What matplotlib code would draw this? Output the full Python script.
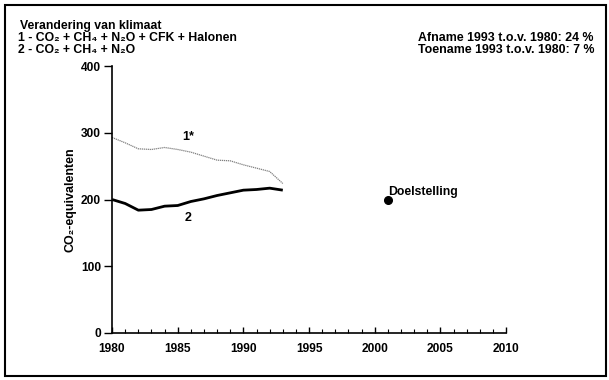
import matplotlib.pyplot as plt
from matplotlib.patches import Rectangle
from matplotlib.ticker import MultipleLocator

plt.rcParams.update({
    'font.family': ['Liberation Sans', 'DejaVu Sans'],
    'font.weight': 'bold',
})

# data
years = [1980, 1981, 1982, 1983, 1984, 1985, 1986, 1987, 1988, 1989, 1990, 1991, 1992, 1993]
series_1 = [293, 285, 276, 275, 278, 275, 271, 265, 259, 258, 252, 247, 242, 224]
series_2 = [200, 194, 184, 185, 190, 191, 197, 201, 206, 210, 214, 215, 217, 214]
target_year = [2001]
target_value = [200]
x_ticks = [1980, 1985, 1990, 1995, 2000, 2005, 2010]
y_ticks = [0, 100, 200, 300, 400]

fig = plt.figure(figsize=(6.09, 3.80), dpi=100)
ax = fig.add_axes([0.184, 0.124, 0.647, 0.702])

ax.plot(years, series_1, color='#808080', lw=0.9, linestyle=(0, (1, 0.6)))
ax.plot(years, series_2, color='black', lw=2.0, solid_capstyle='butt')
ax.plot(target_year, target_value, 'o', color='black', markersize=5.5)

ax.text(2001.05, 207, 'Doelstelling', fontsize=8.8, ha='left', va='baseline')
ax.text(1985.8, 294, '1*', fontsize=9, ha='center', va='center')
ax.text(1985.8, 172, '2', fontsize=9, ha='center', va='center')

ax.set_xlim(1980, 2010)
ax.set_ylim(0, 400)
ax.set_xticks(x_ticks)
ax.set_yticks(y_ticks)
ax.xaxis.set_minor_locator(MultipleLocator(1))
ax.tick_params(axis='x', which='both', direction='in', length=4, width=1, labelsize=8.6, pad=7)
ax.tick_params(axis='x', which='minor', length=3, width=0.8)
ax.tick_params(axis='y', direction='out', length=6, width=1, labelsize=8.6, pad=2)
for lbl in ax.get_xticklabels() + ax.get_yticklabels():
    lbl.set_fontweight('bold')

ax.spines['top'].set_visible(False)
ax.spines['right'].set_visible(False)
ax.spines['left'].set_linewidth(1.2)
ax.spines['bottom'].set_linewidth(1.2)

ax.set_ylabel('CO₂-equivalenten', fontsize=9, fontweight='bold')
ax.yaxis.set_label_coords(-0.09, 0.5)

# header texts
fig.text(20 / 609, 1 - 28.5 / 380, 'Verandering van klimaat', fontsize=8.8, va='baseline')
fig.text(18 / 609, 1 - 41 / 380, '1 - CO₂ + CH₄ + N₂O + CFK + Halonen', fontsize=8.8, va='baseline')
fig.text(18 / 609, 1 - 53 / 380, '2 - CO₂ + CH₄ + N₂O', fontsize=8.8, va='baseline')
fig.text(594 / 609, 1 - 41 / 380, 'Afname 1993 t.o.v. 1980: 24 %', fontsize=8.9, ha='right', va='baseline')
fig.text(594 / 609, 1 - 53 / 380, 'Toename 1993 t.o.v. 1980: 7 %', fontsize=8.9, ha='right', va='baseline')

# outer frame
fig.patches.append(Rectangle((5 / 609, 4 / 380), 601 / 609, 371 / 380, transform=fig.transFigure,
                             fill=False, edgecolor='black', lw=1.5))

fig.savefig('out.png', dpi=100)
